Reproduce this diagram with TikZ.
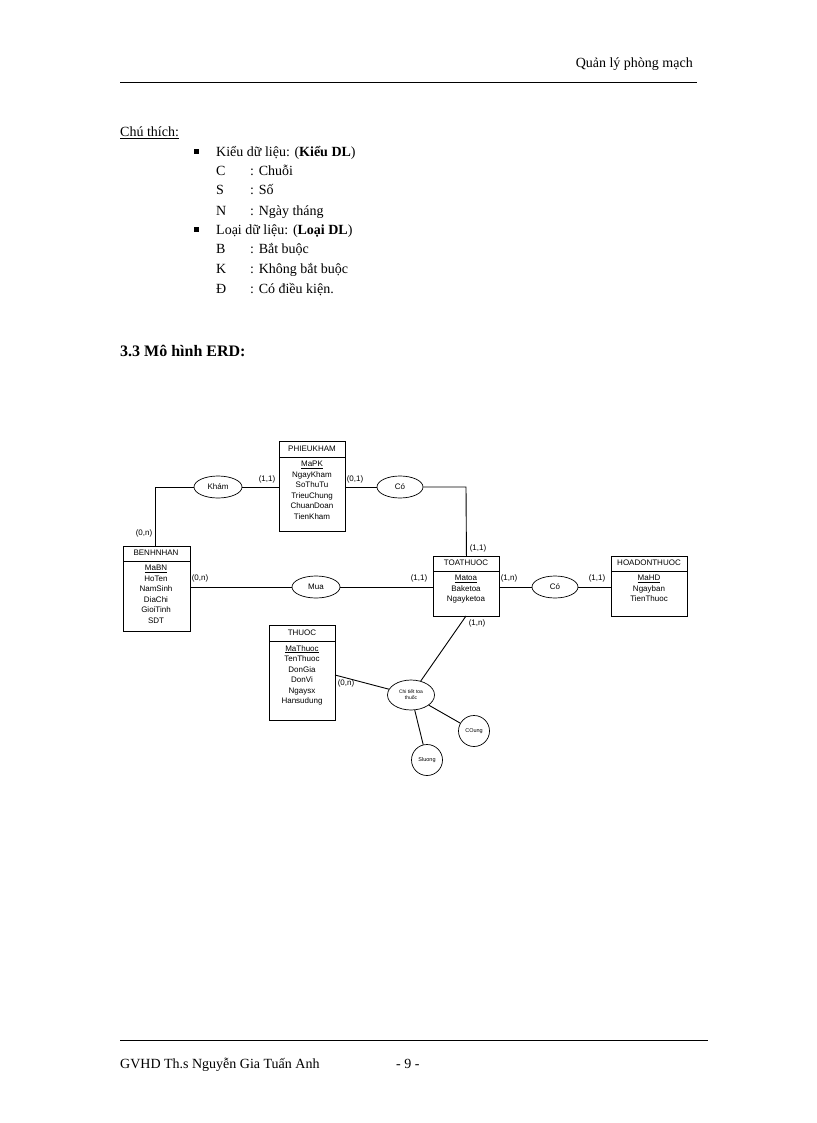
\documentclass[tikz,border=0pt]{standalone}
\usepackage{fontspec}
\usetikzlibrary{shapes.geometric}
\setmainfont{Liberation Serif}
\newfontfamily\erdfont{Liberation Sans}
\begin{document}
\begin{tikzpicture}[x=1pt,y=-1pt,
  txt/.style={anchor=base west,inner sep=0,font=\fontsize{14}{16}\selectfont},
  ent/.style={draw,line width=0.9pt,minimum width=#1,anchor=north west},
  rel/.style={draw,ellipse,line width=0.7pt},
  lnk/.style={line width=0.9pt},
  card/.style={font=\erdfont\fontsize{8}{9}\selectfont,inner sep=0}]
\useasboundingbox (0,0) rectangle (816,1123);
% header
\node[anchor=base east,inner sep=0,font=\fontsize{14}{16}\selectfont] (hdr) at (693,68) {Quản lý phòng mạch};
\draw[line width=0.6pt] (120,82) -- (697,82);
\node[txt] (ct) at (120,137) {\underline{Chú thích:}};
\foreach \y/\a/\b in {157/{Kiểu dữ liệu:  (\textbf{Kiểu DL})}/{},235/{Loại dữ liệu:  (\textbf{Loại DL})}/{}}{
  \fill (194,\y-8) rectangle +(5,5);
  \node[txt] at (216,\y) {\a};}
\foreach \y/\a/\b in {176/C/Chuỗi,195/S/Số,215/N/Ngày tháng,254/B/Bắt buộc,273/K/Không bắt buộc,293/Đ/Có điều kiện.}{
  \node[txt] at (216,\y) {\a};
  \node[txt] at (250,\y) {: \b};}
\node[txt,font=\bfseries\fontsize{16}{18}\selectfont] (sec) at (120,356) {3.3 Mô hình ERD:};
% entities
\begin{scope}[font=\erdfont\fontsize{8}{10.5}\selectfont]
\node[ent=66pt,minimum height=90pt] (pk) at (279,441) {};
\draw (279,457) -- (345,457);
\node at (312,449) {PHIEUKHAM};
\node[align=center,anchor=north,inner sep=0] at (312,461) {\underline{MaPK}\\NgayKham\\SoThuTu\\TrieuChung\\ChuanDoan\\TienKham};
\node[ent=67pt,minimum height=85pt] (bn) at (123,546) {};
\draw (123,561) -- (190,561);
\node at (156,553) {BENHNHAN};
\node[align=center,anchor=north,inner sep=0] at (156,565) {\underline{MaBN}\\HoTen\\NamSinh\\DiaChi\\GioiTinh\\SDT};
\node[ent=66pt,minimum height=60pt] (tt) at (433,556) {};
\draw (433,571) -- (499,571);
\node at (466,563) {TOATHUOC};
\node[align=center,anchor=north,inner sep=0] at (466,575) {\underline{Matoa}\\Baketoa\\Ngayketoa};
\node[ent=76pt,minimum height=60pt] (hd) at (611,556) {};
\draw (611,571) -- (687,571);
\node at (649,563) {HOADONTHUOC};
\node[align=center,anchor=north,inner sep=0] at (649,575) {\underline{MaHD}\\Ngayban\\TienThuoc};
\node[ent=66pt,minimum height=95pt] (th) at (269,625) {};
\draw (269,641) -- (335,641);
\node at (302,633) {THUOC};
\node[align=center,anchor=north,inner sep=0] at (302,645) {\underline{MaThuoc}\\TenThuoc\\DonGia\\DonVi\\Ngaysx\\Hansudung};
% relationships
\node[rel,minimum width=48pt,minimum height=22pt,inner sep=0] (kham) at (218,487) {Khám};
\node[rel,minimum width=46pt,minimum height=22pt,inner sep=0] (co1) at (400,487) {Có};
\node[rel,minimum width=48pt,minimum height=22pt,inner sep=0] (mua) at (316,587) {Mua};
\node[rel,minimum width=46pt,minimum height=22pt,inner sep=0] (co2) at (555,587) {Có};
\node[rel,minimum width=47pt,minimum height=30pt,inner sep=0,align=center,font=\erdfont\fontsize{5}{6}\selectfont] (ct2) at (411,695) {Chi tiết toa\\thuốc};
\node[draw,line width=0.7pt,circle,minimum size=31pt,inner sep=0,font=\erdfont\fontsize{5.5}{6}\selectfont] (cou) at (474,731) {COung};
\node[draw,line width=0.7pt,circle,minimum size=31pt,inner sep=0,font=\erdfont\fontsize{5.5}{6}\selectfont] (slu) at (427,760) {Sluong};
\end{scope}
% links
\coordinate (k1) at (155,487);
\draw[lnk] (kham.west) -- (k1) -- (bn.north -| k1);
\draw[lnk] (kham.east) -- (pk.west |- kham);
\coordinate (c1) at (466,487);
\draw[lnk] (pk.east |- co1) -- (co1.west);
\draw[lnk] (co1.east) -- (c1) -- (tt.north);
\draw[lnk] (bn.east |- mua) -- (mua.west);
\draw[lnk] (mua.east) -- (tt.west |- mua);
\draw[lnk] (tt.east |- co2) -- (co2.west);
\draw[lnk] (co2.east) -- (hd.west |- co2);
\coordinate (tb) at (466,616);
\draw[lnk] (tb) -- (ct2);
\coordinate (tr) at (335,675);
\draw[lnk] (tr) -- (ct2);
\draw[lnk] (ct2) -- (cou);
\draw[lnk] (ct2) -- (slu);
% cardinalities
\node[card] at (267,479) {(1,1)};
\node[card] at (355,479) {(0,1)};
\node[card] at (144,533) {(0,n)};
\node[card] at (478,548) {(1,1)};
\node[card] at (200,578) {(0,n)};
\node[card] at (419,578) {(1,1)};
\node[card] at (509,578) {(1,n)};
\node[card] at (597,578) {(1,1)};
\node[card] at (477,623) {(1,n)};
\node[card] at (346,683) {(0,n)};
% footer
\draw[line width=0.6pt] (120,1040) -- (708,1040);
\node[txt] (ft) at (120,1068) {GVHD Th.s Nguyễn Gia Tuấn Anh};
\node[txt] (pg) at (396,1068) {- 9 -};
\end{tikzpicture}
\end{document}
